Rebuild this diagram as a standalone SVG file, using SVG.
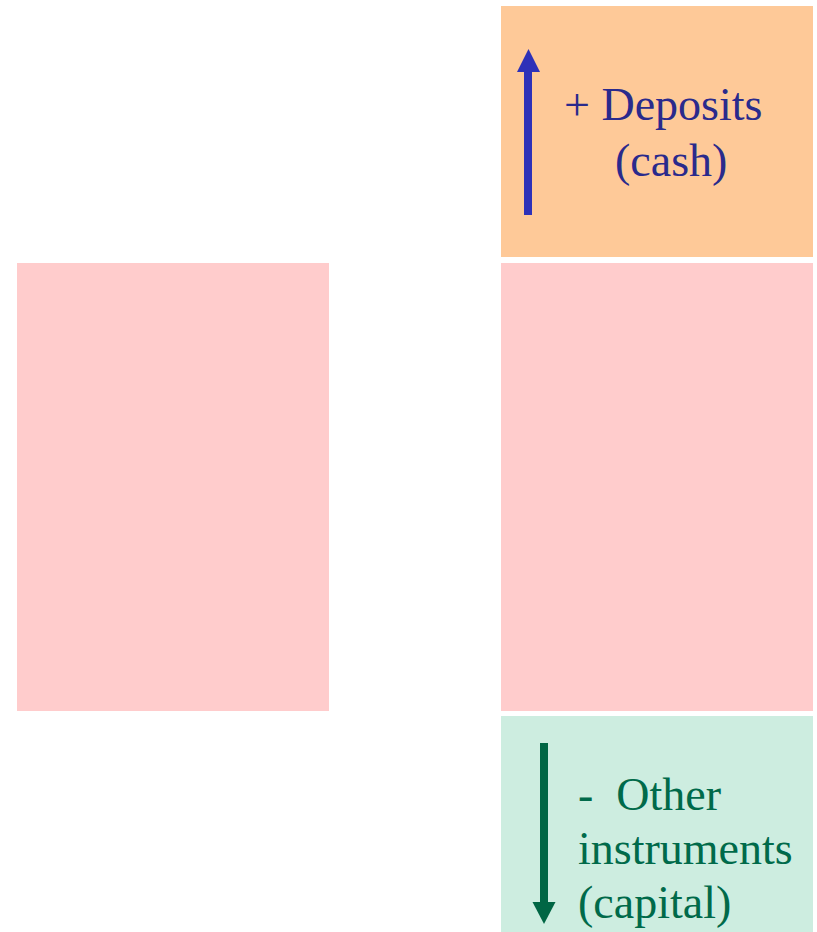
<svg xmlns="http://www.w3.org/2000/svg" width="817" height="932" viewBox="0 0 817 932">
<style>
.t{font-family:"Liberation Serif","Times New Roman",serif;font-size:46px}
.blue{fill:#2a2a8c}
.green{fill:#006a4a}
</style>
<rect width="817" height="932" fill="#ffffff"/>
<g id="left-block"><rect x="17" y="263" width="312" height="448" fill="#ffcccc"/></g>
<g id="deposits"><rect x="501" y="6" width="312" height="251" fill="#fec998"/>
<text class="t blue" x="564" y="120">+ Deposits</text>
<text class="t blue" x="615" y="176">(cash)</text></g>
<g id="middle-block"><rect x="501" y="263" width="312" height="448" fill="#ffcccc"/></g>
<g id="other"><rect x="501" y="716" width="312" height="216" fill="#cdede0"/>
<text class="t green" x="578" y="810" xml:space="preserve">-  Other</text>
<text class="t green" x="578" y="864">instruments</text>
<text class="t green" x="578" y="918">(capital)</text></g>
<g id="connectors">
<rect x="524" y="70" width="8" height="145" fill="#2e31b8"/>
<polygon points="517,72 540,72 528.5,49" fill="#2e31b8"/>
<rect x="540" y="743" width="8" height="161" fill="#006644"/>
<polygon points="532.5,902 555.5,902 544,924" fill="#006644"/>
</g>
</svg>
